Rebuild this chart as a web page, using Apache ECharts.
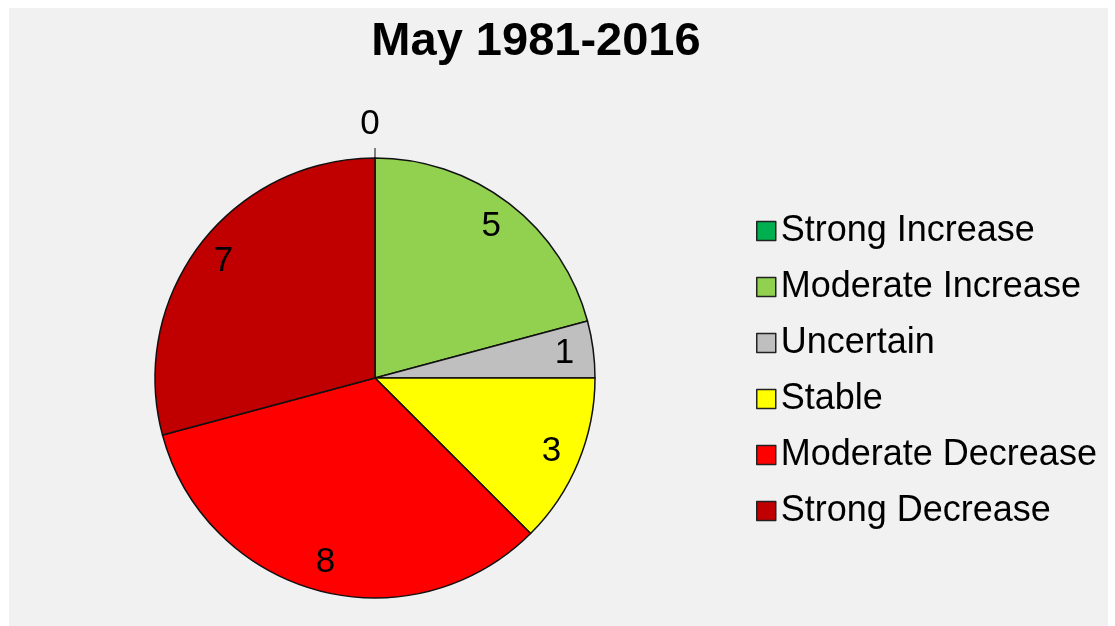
<!DOCTYPE html>
<html>
<head>
<meta charset="utf-8">
<script src="https://cdn.jsdelivr.net/npm/echarts@6/dist/echarts.min.js"></script>
<style>
    html, body {
        margin: 0;
        padding: 0;
        background: #ffffff;
    }
    #chartPie {
        position: absolute;
        left: 9px;
        top: 8px;
        width: 1099px;
        height: 618px;
        background: #f1f1f1;
    }
</style>
</head>
<body>
<div id="chartPie"></div>
<script>
    var categories = ['Strong Increase', 'Moderate Increase', 'Uncertain', 'Stable', 'Moderate Decrease', 'Strong Decrease']
    var counts = [0, 5, 1, 3, 8, 7]
    var colors = ['#00b050', '#92d050', '#bfbfbf', '#ffff00', '#ff0000', '#c00000']

    var mainData = []
    var labelData = []
    for (var i in categories) {
        mainData.push({
            name: categories[i],
            value: counts[i],
            itemStyle: { color: colors[i] },
            // only the empty slice keeps its label outside, with a short tick
            label: { show: counts[i] === 0 },
            labelLine: { show: counts[i] === 0 }
        })
        labelData.push({
            name: categories[i],
            value: counts[i],
            label: { show: counts[i] !== 0 }
        })
    }

    var chartPie = echarts.init(document.getElementById('chartPie'))
    chartPie.setOption({
        animation: false,
        title: {
            text: 'May 1981-2016',
            left: 522,
            top: 6,
            textAlign: 'center',
            textStyle: {
                fontFamily: 'Liberation Sans',
                fontSize: 47,
                fontWeight: 'bold',
                color: '#000'
            }
        },
        legend: {
            orient: 'vertical',
            left: 742,
            top: 198,
            data: categories,
            itemWidth: 19,
            itemHeight: 19,
            itemGap: 16,
            icon: 'rect',
            itemStyle: {
                borderColor: '#222',
                borderWidth: 1.5
            },
            textStyle: {
                fontFamily: 'Liberation Sans',
                fontSize: 36,
                lineHeight: 40,
                color: '#000'
            }
        },
        series: [
            {
                name: 'counts',
                type: 'pie',
                center: [366, 370],
                radius: 220,
                startAngle: 90,
                clockwise: true,
                avoidLabelOverlap: false,
                data: mainData,
                itemStyle: {
                    borderColor: '#111',
                    borderWidth: 1.5
                },
                label: {
                    position: 'outside',
                    formatter: '{c}',
                    fontFamily: 'Liberation Sans',
                    fontSize: 35,
                    color: '#000'
                },
                labelLine: {
                    length: 10,
                    length2: 0,
                    lineStyle: { color: '#333', width: 1.2 }
                },
                labelLayout: function (params) {
                    if (params.dataIndex === 0) {
                        return { align: 'center', dy: -24 }
                    }
                }
            },
            {
                name: 'labels',
                type: 'pie',
                center: [366, 370],
                radius: [156, 220],
                startAngle: 90,
                clockwise: true,
                silent: true,
                avoidLabelOverlap: false,
                data: labelData,
                itemStyle: {
                    color: 'rgba(0,0,0,0)',
                    borderWidth: 0
                },
                label: {
                    position: 'inside',
                    formatter: '{c}',
                    fontFamily: 'Liberation Sans',
                    fontSize: 35,
                    color: '#000'
                },
                labelLine: { show: false }
            }
        ]
    })
</script>
</body>
</html>
